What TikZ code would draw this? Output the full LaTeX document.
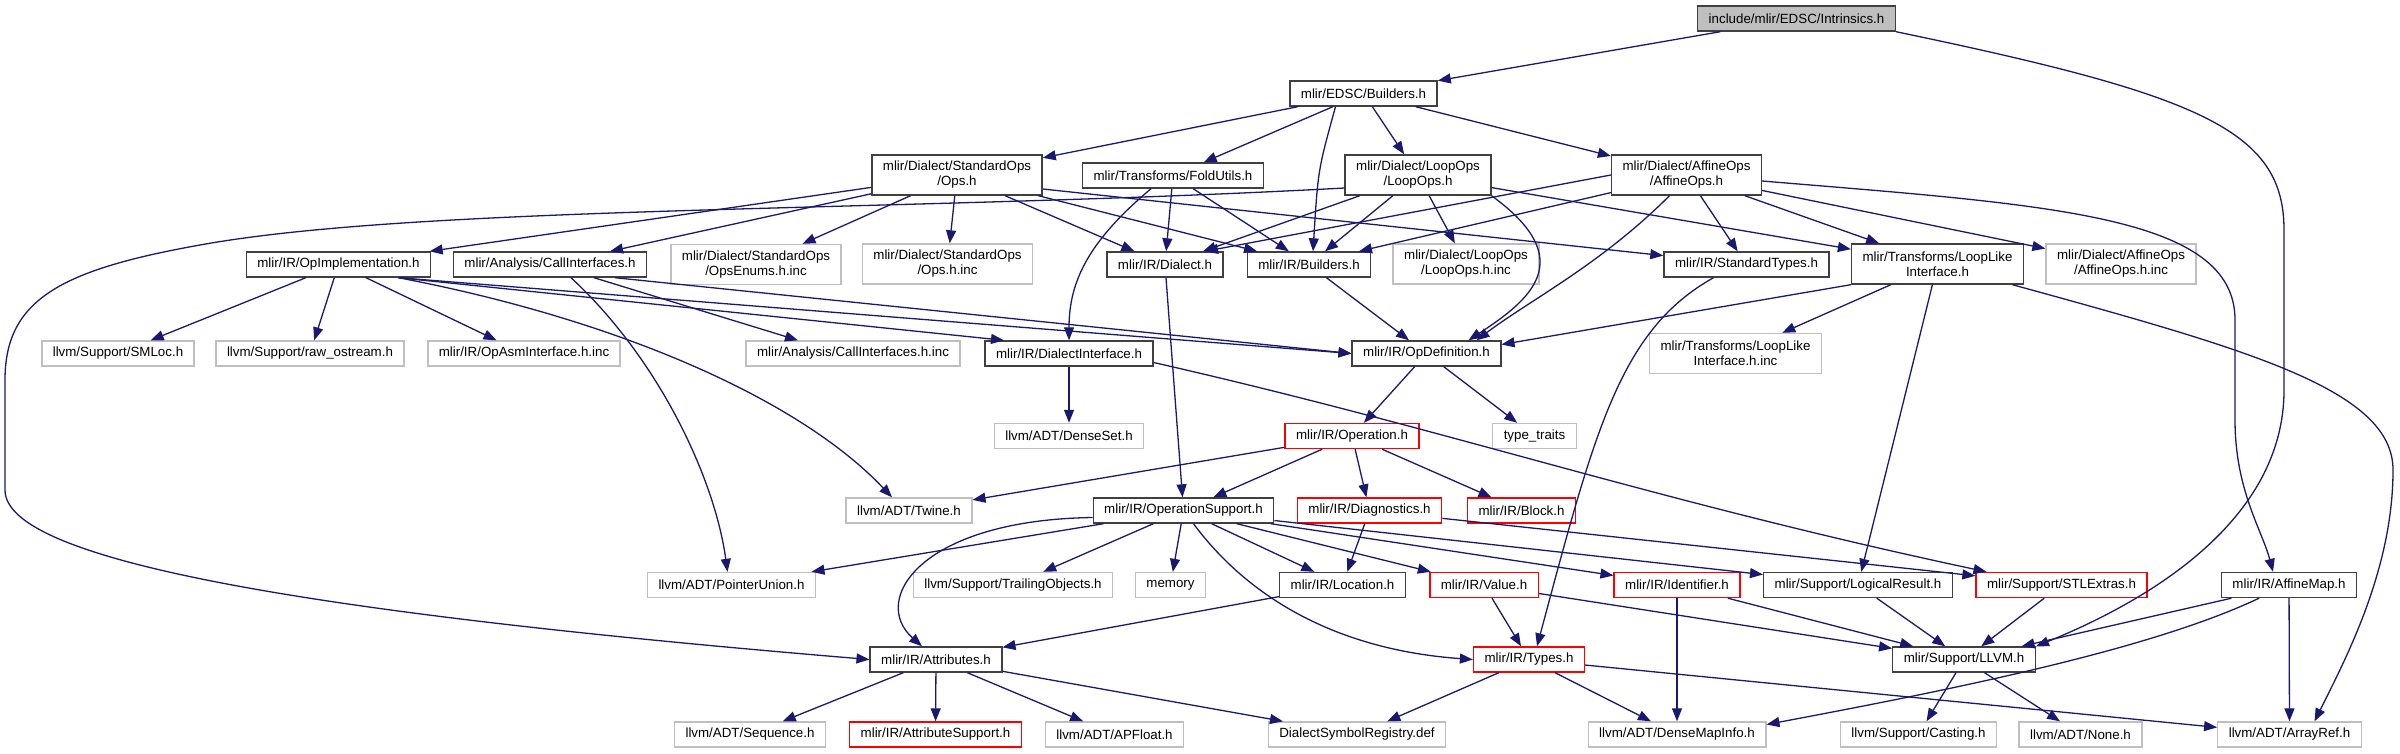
\documentclass[tikz,border=0pt]{standalone}
\usepackage{fontspec}
\setmainfont{Liberation Sans}
\usetikzlibrary{arrows.meta}
\definecolor{edgeblue}{HTML}{191970}
\definecolor{extgray}{HTML}{BFBFBF}
\definecolor{boxred}{HTML}{FF0000}
\definecolor{boxdark}{HTML}{404040}

\begin{document}
\begin{tikzpicture}[x=1pt,y=-1pt,
  box/.style={draw,line width=1.4pt,fill=white,inner xsep=11pt,inner ysep=5pt,minimum height=25pt,align=center,font=\fontsize{13.33}{15}\selectfont},
  doc/.style={box,draw=boxdark},
  ext/.style={box,draw=extgray},
  trunc/.style={box,draw=boxred},
  two/.style={minimum height=40pt},
  dep/.style={draw=edgeblue,line width=1.3pt,-{Triangle[length=13pt,width=10pt]}}]
\useasboundingbox (0,0) rectangle (2400,753);

\node[doc,fill=extgray] (intr) at (1796.5,18.5) {include/mlir/EDSC/Intrinsics.h};
\node[doc] (edsc) at (1363.5,93.5) {mlir/EDSC/Builders.h};

\node[doc,two] (stdops) at (957,175) {mlir/Dialect/StandardOps\\/Ops.h};
\node[doc] (fold) at (1173,175.5) {mlir/Transforms/FoldUtils.h};
\node[doc,two] (loopops) at (1418,175) {mlir/Dialect/LoopOps\\/LoopOps.h};
\node[doc,two] (affops) at (1686.5,175) {mlir/Dialect/AffineOps\\/AffineOps.h};

\node[doc] (opimpl) at (338.5,264.5) {mlir/IR/OpImplementation.h};
\node[doc] (callif) at (550,264.5) {mlir/Analysis/CallInterfaces.h};
\node[ext,two] (opsenums) at (756,264.5) {mlir/Dialect/StandardOps\\/OpsEnums.h.inc};
\node[ext,two] (opsinc) at (947.5,264) {mlir/Dialect/StandardOps\\/Ops.h.inc};
\node[doc] (dialect) at (1165,264.5) {mlir/IR/Dialect.h};
\node[doc] (irbuild) at (1309,264.5) {mlir/IR/Builders.h};
\node[ext,two] (loopinc) at (1466,264) {mlir/Dialect/LoopOps\\/LoopOps.h.inc};
\node[doc] (stdtypes) at (1746.5,264.5) {mlir/IR/StandardTypes.h};
\node[doc,two] (looplike) at (1937.5,264) {mlir/Transforms/LoopLike\\Interface.h};
\node[ext,two] (affinc) at (2121,264) {mlir/Dialect/AffineOps\\/AffineOps.h.inc};

\node[ext] (smloc) at (118,353.5) {llvm/Support/SMLoc.h};
\node[ext] (rawos) at (310,353.5) {llvm/Support/raw\_ostream.h};
\node[ext] (opasm) at (524,353.5) {mlir/IR/OpAsmInterface.h.inc};
\node[ext] (callinc) at (853,353.5) {mlir/Analysis/CallInterfaces.h.inc};
\node[doc] (dialif) at (1069,353.5) {mlir/IR/DialectInterface.h};
\node[doc] (opdef) at (1426.5,353.5) {mlir/IR/OpDefinition.h};
\node[ext,two] (looplikeinc) at (1735.5,353.5) {mlir/Transforms/LoopLike\\Interface.h.inc};

\node[ext] (denseset) at (1069,436) {llvm/ADT/DenseSet.h};
\node[trunc] (operation) at (1352,436) {mlir/IR/Operation.h};
\node[ext] (typetraits) at (1534.5,436) {type\_traits};

\node[ext] (twine) at (909,510.5) {llvm/ADT/Twine.h};
\node[doc] (opsupp) at (1183.5,510.5) {mlir/IR/OperationSupport.h};
\node[trunc] (diag) at (1369.5,510.5) {mlir/IR/Diagnostics.h};
\node[trunc] (block) at (1521.5,510.5) {mlir/IR/Block.h};

\node[ext] (ptrunion) at (731.5,585) {llvm/ADT/PointerUnion.h};
\node[ext] (trailing) at (1013,585) {llvm/Support/TrailingObjects.h};
\node[ext] (memory) at (1170.5,585) {memory};
\node[doc] (location) at (1342.5,585) {mlir/IR/Location.h};
\node[trunc] (value) at (1484,585) {mlir/IR/Value.h};
\node[trunc] (ident) at (1677,585) {mlir/IR/Identifier.h};
\node[doc] (logres) at (1858,585) {mlir/Support/LogicalResult.h};
\node[trunc] (stlext) at (2061.5,585) {mlir/Support/STLExtras.h};
\node[doc] (affmap) at (2289,585) {mlir/IR/AffineMap.h};

\node[doc] (attrs) at (936,659.5) {mlir/IR/Attributes.h};
\node[trunc] (types) at (1529,659.5) {mlir/IR/Types.h};
\node[doc] (llvmh) at (1964,659.5) {mlir/Support/LLVM.h};

\node[ext] (sequence) at (750,734.5) {llvm/ADT/Sequence.h};
\node[trunc] (attrsupp) at (935.5,734.5) {mlir/IR/AttributeSupport.h};
\node[ext] (apfloat) at (1114.5,734.5) {llvm/ADT/APFloat.h};
\node[ext] (dsr) at (1357,734.5) {DialectSymbolRegistry.def};
\node[ext] (densemap) at (1677,734.5) {llvm/ADT/DenseMapInfo.h};
\node[ext] (casting) at (1918.5,734.5) {llvm/Support/Casting.h};
\node[ext] (none) at (2080.5,734.5) {llvm/ADT/None.h};
\node[ext] (arrayref) at (2289.5,734.5) {llvm/ADT/ArrayRef.h};

\foreach \a/\b in {intr/edsc, edsc/stdops, edsc/fold, edsc/loopops, edsc/affops,
  stdops/opimpl, stdops/callif, stdops/opsenums, stdops/opsinc, stdops/dialect, stdops/irbuild,
  fold/dialect, fold/irbuild, loopops/irbuild, loopops/loopinc, loopops/looplike,
  affops/stdtypes, affops/looplike, affops/affinc,
  opimpl/smloc, opimpl/rawos, opimpl/opasm, dialect/opsupp, irbuild/opdef,
  looplike/looplikeinc, looplike/logres, opdef/operation, opdef/typetraits, dialif/denseset,
  operation/twine, operation/opsupp, operation/diag, operation/block,
  opsupp/ptrunion, opsupp/trailing, opsupp/memory, opsupp/location, opsupp/value, opsupp/ident, opsupp/logres,
  diag/location, diag/stlext, location/attrs, value/types, value/llvmh, ident/densemap, ident/llvmh,
  logres/llvmh, stlext/llvmh, affmap/llvmh, affmap/arrayref,
  attrs/sequence, attrs/attrsupp, attrs/apfloat, attrs/dsr,
  types/dsr, types/densemap, types/arrayref, llvmh/casting, llvmh/none}
  \draw[dep] (\a) -- (\b);

\draw[dep] (loopops) -- ([xshift=38pt]dialect.north);
\draw[dep] (affops.west) -- ([xshift=40pt]dialect.north);
\draw[dep] (affops) -- ([xshift=50pt]irbuild.north);
\draw[dep] ([yshift=-14pt]stdops.east) -- (stdtypes);
\draw[dep] (looplike.south west) -- ([yshift=9pt]opdef.east);
\draw[dep] ([xshift=60pt]opimpl.south) -- ([xshift=-65pt]dialif.north);
\draw[dep] ([xshift=60pt]opimpl.south) -- (opdef.west);
\draw[dep] ([xshift=65pt]callif.south) -- (opdef.west);
\draw[dep] ([xshift=44pt]callif.south) -- ([xshift=-55pt]callinc.north);

\draw[dep] (intr.south east) .. controls (2200,95) and (2284,130) .. (2284,230) -- (2284,390) .. controls (2284,520) and (2150,600) .. (llvmh.north east);
\draw[dep] ([xshift=-28pt]edsc.south) .. controls (1318,170) .. ([xshift=4pt]irbuild.north);
\draw[dep] ([xshift=-22pt]fold.south) .. controls (1090,240) and (1069,280) .. (dialif.north);
\draw[dep] ([yshift=-13pt]loopops.west) .. controls (900,212) and (420,205) .. (200,245) .. controls (60,270) and (5,300) .. (5,380) -- (5,490) .. controls (5,560) and (300,612) .. (attrs.west);
\draw[dep] ([xshift=21pt]callif.south) .. controls (660,360) and (715,480) .. ([xshift=-4pt]ptrunion.north);
\draw[dep] ([xshift=60pt]opimpl.south) .. controls (620,320) and (800,400) .. ([xshift=-17pt]twine.north);
\draw[dep] (loopops.south east) .. controls (1580,260) and (1530,300) .. ([xshift=42pt]opdef.north);
\draw[dep] ([xshift=-17pt]affops.south) .. controls (1600,265) and (1530,300) .. ([xshift=50pt]opdef.north);
\draw[dep] ([yshift=-6pt]affops.east) .. controls (2050,205) and (2235,215) .. (2235,320) -- (2235,420) .. controls (2235,490) and (2262,530) .. ([xshift=-16pt]affmap.north);
\draw[dep] ([xshift=-33pt]stdtypes.south) .. controls (1620,330) and (1595,430) .. ([xshift=8pt]types.north);
\draw[dep] ([xshift=75pt]looplike.south) .. controls (2250,350) and (2393,390) .. (2393,470) .. controls (2393,570) and (2345,660) .. ([xshift=25pt]arrayref.north);
\draw[dep] ([yshift=-9pt]dialif.east) .. controls (1450,430) and (1650,500) .. ([xshift=-75pt]stlext.north);
\draw[dep] ([yshift=-7pt]opsupp.west) .. controls (920,520) and (870,600) .. ([xshift=-14pt]attrs.north);
\draw[dep] ([xshift=10pt]opsupp.south) .. controls (1250,600) and (1340,650) .. (types.west);
\draw[dep] ([xshift=-30pt]affmap.south) .. controls (2150,650) and (1950,690) .. ([yshift=10pt]densemap.east);
\end{tikzpicture}
\end{document}
